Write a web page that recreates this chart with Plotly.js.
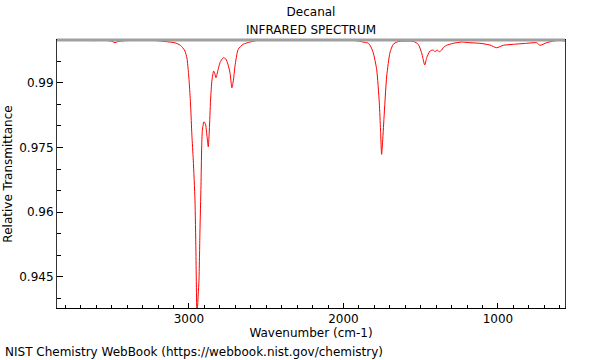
<!DOCTYPE html>
<html>
<head>
<meta charset="utf-8">
<script src="https://cdn.plot.ly/plotly-3.0.1.min.js"></script>
<style>html,body{margin:0;padding:0;background:#fff;}#chart{width:600px;height:360px;}</style>
</head>
<body>
<div id="chart"></div>
<script>
// Wavenumber (cm-1)
const wavenumber = [3854, 3803, 3705, 3608, 3544, 3498, 3479, 3460, 3414, 3317, 3220, 3155, 3091, 3058, 3039, 3026, 3013, 3005, 2997, 2989, 2981, 2972, 2961, 2955, 2948, 2940, 2935, 2929, 2922, 2918, 2913, 2903, 2893, 2884, 2875, 2868, 2860, 2851, 2840, 2832, 2825, 2812, 2799, 2778, 2761, 2748, 2735, 2722, 2712, 2702, 2681, 2649, 2605, 2560, 2346, 2152, 1939, 1893, 1861, 1840, 1822, 1807, 1785, 1768, 1760, 1753, 1744, 1738, 1720, 1699, 1678, 1654, 1634, 1570, 1544, 1516, 1494, 1474, 1461, 1440, 1419, 1408, 1393, 1380, 1364, 1354, 1332, 1289, 1235, 1181, 1117, 1052, 1009, 966, 901, 814, 750, 728, 685, 642, 599, 566];
// Relative transmittance
const transmittance = [0.99984, 0.99979, 0.99984, 0.99977, 0.99984, 0.99960, 0.99928, 0.99956, 0.99974, 0.99984, 0.99979, 0.99956, 0.99926, 0.99875, 0.99805, 0.99735, 0.99573, 0.99311, 0.98947, 0.98459, 0.97787, 0.97207, 0.96279, 0.95119, 0.93610, 0.94091, 0.94420, 0.95513, 0.96627, 0.97439, 0.97903, 0.98095, 0.98042, 0.97787, 0.97515, 0.97903, 0.98599, 0.99063, 0.99271, 0.99202, 0.99116, 0.99295, 0.99464, 0.99580, 0.99550, 0.99434, 0.99248, 0.98884, 0.99063, 0.99387, 0.99775, 0.99891, 0.99944, 0.99979, 0.99986, 0.99984, 0.99981, 0.99963, 0.99933, 0.99921, 0.99828, 0.99696, 0.99311, 0.98536, 0.97903, 0.97339, 0.97787, 0.98151, 0.99155, 0.99696, 0.99891, 0.99944, 0.99963, 0.99967, 0.99956, 0.99891, 0.99696, 0.99411, 0.99580, 0.99735, 0.99759, 0.99719, 0.99759, 0.99719, 0.99759, 0.99812, 0.99868, 0.99914, 0.99944, 0.99928, 0.99914, 0.99875, 0.99812, 0.99868, 0.99891, 0.99914, 0.99928, 0.99868, 0.99928, 0.99967, 0.99984, 0.99967];
const yTickVals = [0.99, 0.975, 0.96, 0.945];
const yTickText = ["0.99", "0.975", "0.96", "0.945"];
const xTickVals = [3000, 2000, 1000];
const xTickText = ["3000", "2000", "1000"];

const font = {family: "DejaVu Sans, sans-serif", size: 12, color: "#000"};

const trace = {
  x: wavenumber, y: transmittance, type: "scatter", mode: "lines",
  line: {color: "#ff0000", width: 1, shape: "spline", smoothing: 0.6},
  hoverinfo: "skip"
};

const layout = {
  width: 600, height: 360,
  margin: {l: 57, r: 35, t: 40, b: 52},
  paper_bgcolor: "#fff", plot_bgcolor: "#fff",
  font: font,
  showlegend: false,
  title: {text: "Decanal", font: font,
          xref: "paper", x: 0.5, xanchor: "center",
          yref: "container", y: 0.9667, yanchor: "middle"},
  xaxis: {
    range: [3854, 566], autorange: false,
    tickvals: xTickVals, ticktext: xTickText,
    ticks: "inside", ticklen: 5, tickcolor: "#000", tickwidth: 1,
    minor: {dtick: 100, tick0: 0, ticks: "inside", ticklen: 3, tickcolor: "#000"},
    showgrid: false, zeroline: false,
    showline: true, linecolor: "#000", linewidth: 1, mirror: true,
    tickfont: font,
    title: {text: "Wavenumber (cm-1)", font: font, standoff: 2}
  },
  yaxis: {
    range: [0.93778, 0.99991], autorange: false,
    tickvals: yTickVals, ticktext: yTickText,
    ticks: "inside", ticklen: 6, tickcolor: "#000", tickwidth: 1,
    minor: {dtick: 0.005, tick0: 0, ticks: "inside", ticklen: 4, tickcolor: "#000"},
    showgrid: false, zeroline: false,
    showline: true, linecolor: "#333", linewidth: 1, mirror: true,
    tickfont: font,
    title: {text: "Relative Transmittance", font: font, standoff: 4}
  },
  shapes: [
    {type: "line", xref: "paper", yref: "paper", x0: 0, x1: 1, y0: 1, y1: 1,
     line: {color: "#a0a0a0", width: 3}}
  ],
  annotations: [
    {text: "INFRARED SPECTRUM",
     xref: "paper", yref: "paper", x: 0.5, y: 1.0373, xanchor: "center", yanchor: "middle",
     showarrow: false, font: font},
    {text: "NIST Chemistry WebBook (https://webbook.nist.gov/chemistry)",
     xref: "paper", yref: "paper", x: -0.106, y: -0.164, xanchor: "left", yanchor: "middle",
     showarrow: false, font: font}
  ]
};

Plotly.newPlot("chart", [trace], layout, {staticPlot: true, displayModeBar: false});
</script>
</body>
</html>
